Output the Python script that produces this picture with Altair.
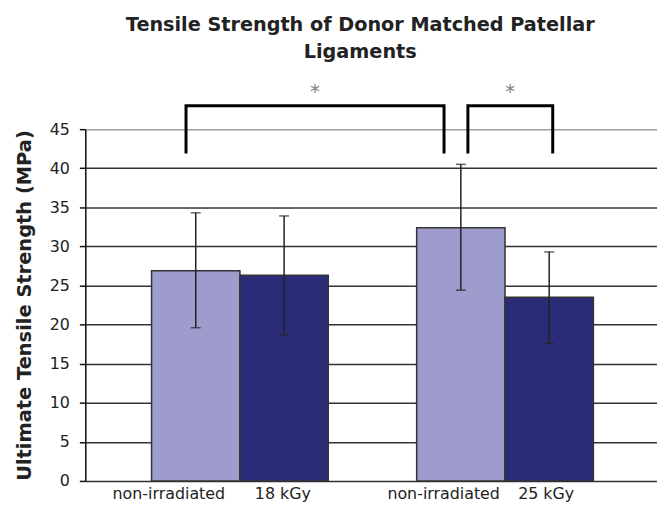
import altair as alt
import pandas as pd

# ---- data ----
bar_labels = ["non-irradiated", "18 kGy", "non-irradiated", "25 kGy"]
bar_groups = ["non-irradiated", "irradiated", "non-irradiated", "irradiated"]
bar_start = [0, 1, 3, 4]
bar_end = [1, 2, 4, 5]
means = [26.9, 26.3, 32.4, 23.5]
err_high = [34.3, 33.9, 40.5, 29.3]
err_low = [19.6, 18.7, 24.4, 17.6]
label_pos = [0.19, 1.48, 3.30, 4.46]   # where the category labels sit on the x axis

bracket_id = ["a", "b"]
bracket_left = [0.39, 3.58]
bracket_right = [3.31, 4.54]
bracket_low = [41.9, 41.9]
bracket_high = [48.0, 48.0]
star_y = [50.0, 50.0]

y_ticks = [0, 5, 10, 15, 20, 25, 30, 35, 40, 45]

# ---- tables ----
centers = [(a + b) / 2 for a, b in zip(bar_start, bar_end)]
bars_df = pd.DataFrame({
    "label": bar_labels, "group": bar_groups, "x0": bar_start, "x1": bar_end,
    "center": centers, "mean": means, "high": err_high, "low": err_low,
})

br_rows = []
for bid, l, r, lo, hi in zip(bracket_id, bracket_left, bracket_right, bracket_low, bracket_high):
    for k, (px, py) in enumerate([(l, lo), (l, hi), (r, hi), (r, lo)]):
        br_rows.append({"id": bid, "k": k, "bx": px, "by": py})
br_df = pd.DataFrame(br_rows)

star_df = pd.DataFrame({
    "sx": [(l + r) / 2 for l, r in zip(bracket_left, bracket_right)],
    "sy": star_y,
})

expr = "''"
for p, lab in reversed(list(zip(label_pos, bar_labels))):
    expr = f"abs(datum.value - {p}) < 0.001 ? '{lab}' : ({expr})"

FONT = "DejaVu Sans"
xs = alt.Scale(domain=[-0.75, 5.72], nice=False, zero=False)
ys = alt.Scale(domain=[0, 45], nice=False)

x_axis = alt.Axis(values=label_pos, labelExpr=expr, ticks=False, domain=False, grid=False,
                  title=None, labelFont=FONT, labelFontSize=16, labelColor="#222",
                  labelPadding=5, labelAngle=0, labelOverlap=False)
y_axis = alt.Axis(values=y_ticks, title="Ultimate Tensile Strength (MPa)",
                  titleFont=FONT, titleFontWeight="bold", titleFontSize=19.6,
                  titleColor="#222", titlePadding=15,
                  labelFont=FONT, labelFontSize=16, labelColor="#222", labelPadding=10,
                  tickSize=6, tickColor="#111", tickWidth=1.5,
                  domainColor="#111", domainWidth=1.5,
                  grid=True, gridWidth=1.5,
                  gridColor={"condition": {"test": "datum.value === 45", "value": "#a0a0a0"},
                             "value": "#333333"})

base = alt.Chart(bars_df)

bars = base.mark_rect(stroke="#333", strokeWidth=1.5).encode(
    x=alt.X("x0:Q", scale=xs, axis=x_axis),
    x2="x1:Q",
    y=alt.Y("mean:Q", scale=ys, axis=y_axis),
    y2=alt.datum(0),
    color=alt.Color("group:N", scale=alt.Scale(domain=["non-irradiated", "irradiated"],
                                               range=["#9e9ccc", "#2a2c78"]), legend=None),
)

err = base.mark_rule(color="#222", strokeWidth=1.5).encode(
    x=alt.X("center:Q", scale=xs, axis=x_axis),
    y=alt.Y("low:Q", scale=ys, axis=y_axis),
    y2="high:Q",
)

caps = base.transform_fold(["low", "high"], as_=["end", "val"]).mark_tick(
    orient="horizontal", size=10, thickness=1.5, color="#222").encode(
    x=alt.X("center:Q", scale=xs, axis=x_axis),
    y=alt.Y("val:Q", scale=ys, axis=y_axis),
)

brackets = alt.Chart(br_df).mark_line(color="#000", strokeWidth=3, strokeJoin="miter").encode(
    x=alt.X("bx:Q", scale=xs, axis=x_axis),
    y=alt.Y("by:Q", scale=ys, axis=y_axis),
    detail="id:N",
    order="k:Q",
)

stars = alt.Chart(star_df).mark_text(text="*", font=FONT, fontSize=20, color="#808080",
                                     baseline="middle", dy=2).encode(
    x=alt.X("sx:Q", scale=xs, axis=x_axis),
    y=alt.Y("sy:Q", scale=ys, axis=y_axis),
)

chart = alt.layer(bars, err, caps, brackets, stars).properties(
    width=577, height=355,
    autosize=alt.AutoSizeParams(type="none"),
    padding={"left": 78, "top": 120, "right": 0, "bottom": 22},
    title=alt.TitleParams(["Tensile Strength of Donor Matched Patellar", "Ligaments"],
                          font=FONT, fontSize=19.4, fontWeight="bold", color="#222",
                          anchor="middle", offset=20, dx=-11, lineHeight=27),
).configure_view(stroke=None).configure(background="white")

chart.save("out.html", embed_options={"renderer": "svg", "actions": False})
